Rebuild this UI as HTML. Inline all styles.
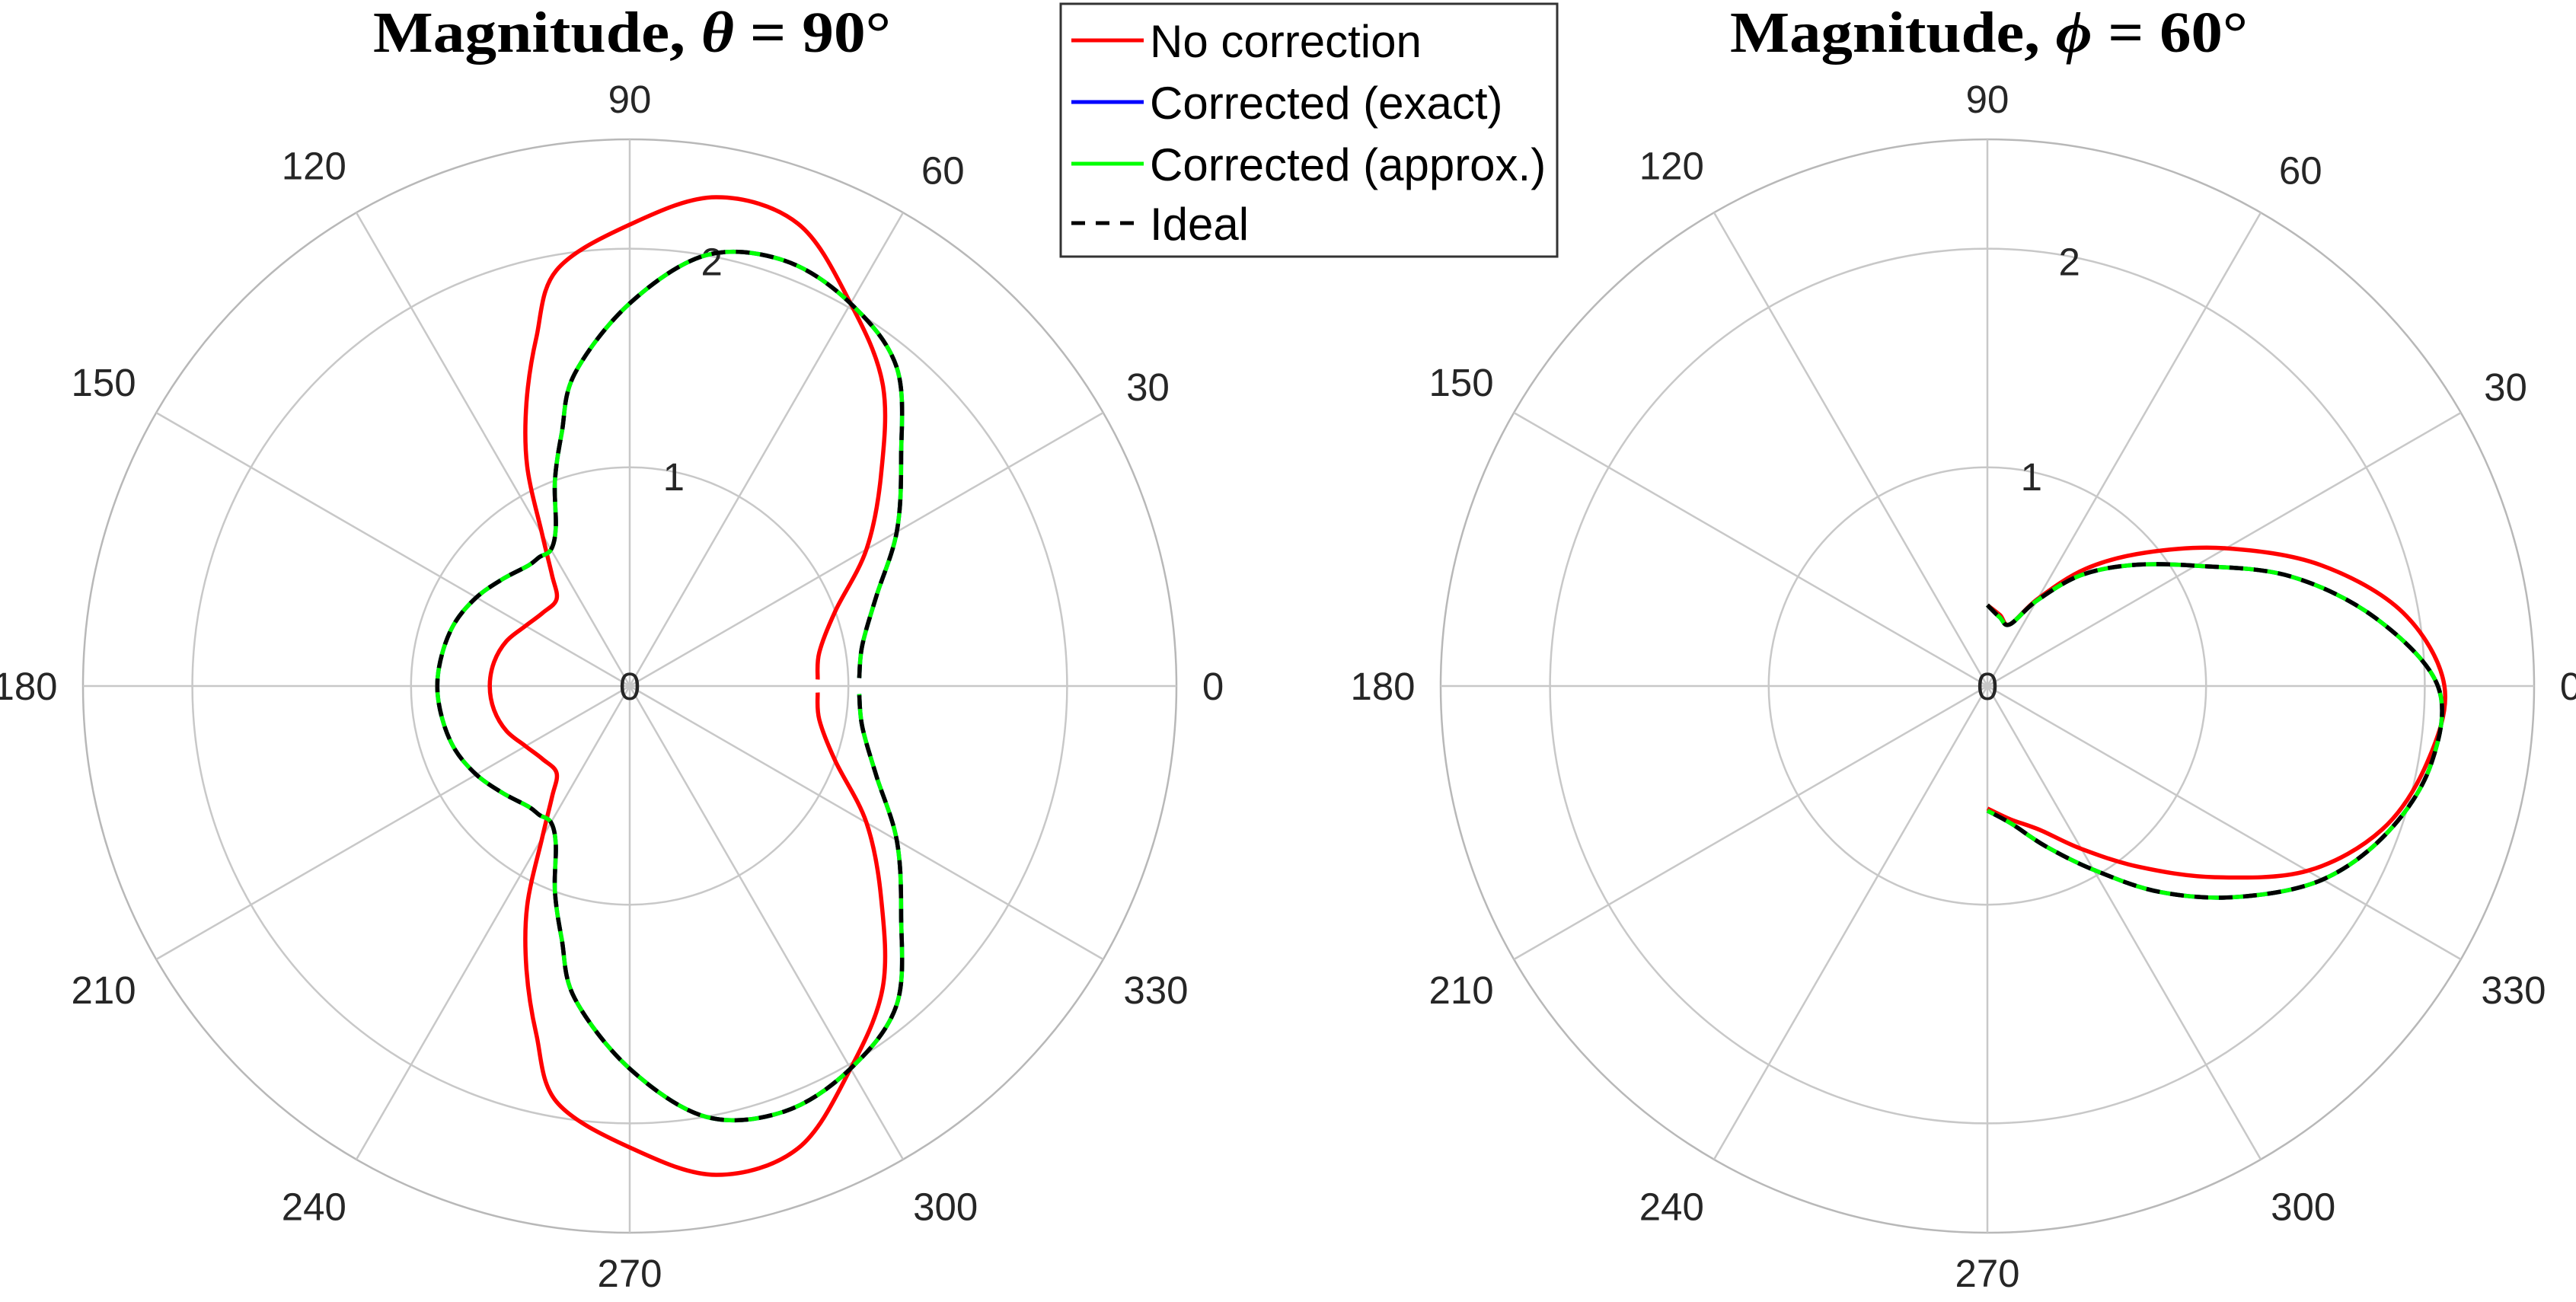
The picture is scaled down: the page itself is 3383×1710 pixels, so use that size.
<!DOCTYPE html>
<html><head><meta charset="utf-8"><style>
html,body{margin:0;padding:0;background:#fff;}
svg{display:block;}
</style></head><body>
<svg id="fig" width="3383" height="1710" viewBox="0 0 3383 1710" xmlns="http://www.w3.org/2000/svg">
<rect width="3383" height="1710" fill="#fff"/>
<text x="830" y="68" text-anchor="middle" font-family="Liberation Serif, serif" font-weight="bold" font-size="76" fill="#000" textLength="680" lengthAdjust="spacingAndGlyphs">Magnitude, <tspan font-style="italic">θ</tspan> = 90°</text>
<text x="2612" y="68" text-anchor="middle" font-family="Liberation Serif, serif" font-weight="bold" font-size="76" fill="#000" textLength="680" lengthAdjust="spacingAndGlyphs">Magnitude, <tspan font-style="italic">ϕ</tspan> = 60°</text>
<g id="left"></g>
<g id="right"></g>
<g>
<rect x="1393" y="5" width="652" height="332" fill="#fff" stroke="#333" stroke-width="3"/>
<line x1="1407" y1="53" x2="1502" y2="53" stroke="#ff0000" stroke-width="5"/>
<line x1="1407" y1="134" x2="1502" y2="134" stroke="#0000ff" stroke-width="5"/>
<line x1="1407" y1="215" x2="1502" y2="215" stroke="#00ff00" stroke-width="5"/>
<line x1="1407" y1="293" x2="1502" y2="293" stroke="#000" stroke-width="5" stroke-dasharray="18,14"/>
<g font-family="Liberation Sans, sans-serif" font-size="60" fill="#000">
<text x="1510" y="75">No correction</text>
<text x="1510" y="156">Corrected (exact)</text>
<text x="1510" y="237">Corrected (approx.)</text>
<text x="1510" y="315">Ideal</text>
</g>
</g>
</svg>
<script>
// Left plot (theta = 90°) data
const leftAngles = [2,10,20,30,40,50,60,70,80,90,100,105,110,115,120,125,130,140,150,160,170,180,190,200,210,220,230,235,240,245,250,255,260,270,280,290,300,310,320,330,340,350,358];
const leftCorrected = [1.05,1.08,1.2,1.41,1.62,1.9,2.02,2.07,2.0,1.75,1.45,1.2,1.0,0.8,0.72,0.72,0.72,0.76,0.81,0.85,0.87,0.88,0.87,0.85,0.81,0.76,0.72,0.72,0.72,0.8,1.0,1.2,1.45,1.75,2.0,2.07,2.02,1.9,1.62,1.41,1.2,1.08,1.05];
const leftNoCorr = [0.86,0.88,1.0,1.25,1.5,1.8,2.02,2.25,2.27,2.11,1.93,1.65,1.38,1.11,0.8,0.62,0.52,0.52,0.55,0.6,0.63,0.64,0.63,0.6,0.55,0.52,0.52,0.62,0.8,1.11,1.38,1.65,1.93,2.11,2.27,2.25,2.02,1.8,1.5,1.25,1.0,0.88,0.86];
// Right plot (phi = 60°) data
const rightAngles = [90,80,70,60,50,40,30,20,10,0,-10,-20,-30,-40,-50,-60,-70,-80,-90];
const rightCorrected = [0.37,0.32,0.30,0.45,0.66,0.86,1.1,1.47,1.8,2.06,2.06,1.95,1.77,1.5,1.23,0.97,0.78,0.64,0.57];
const rightNoCorr = [0.37,0.33,0.30,0.46,0.70,0.95,1.26,1.62,1.93,2.09,2.04,1.92,1.69,1.36,1.08,0.86,0.70,0.62,0.56];
const angleTicks = [0,30,60,90,120,150,180,210,240,270,300,330];
const rTicks = [0,1,2];
const rMax = 2.5;

const NS = 'http://www.w3.org/2000/svg';
const R = 718;
function mk(tag, attrs, parent){const e=document.createElementNS(NS,tag);for(const k in attrs)e.setAttribute(k,attrs[k]);parent.appendChild(e);return e;}

function drawPolar(g, cx, cy, angles, series){
  const rs = v => v / rMax * R;
  const px = (a, v) => cx + rs(v) * Math.cos(a*Math.PI/180);
  const py = (a, v) => cy - rs(v) * Math.sin(a*Math.PI/180);
  rTicks.concat([rMax]).forEach(t => {
    if (t <= 0) return;
    const c = mk('circle', {cx:cx, cy:cy, r:rs(t), fill:'none', stroke: t===rMax ? '#b8b8b8' : '#c8c8c8', 'stroke-width':2.5}, g);
    
    
  });
  angleTicks.forEach(a => {
    const l = mk('line', {x1:cx, y1:cy, x2:px(a,rMax), y2:py(a,rMax), stroke:'#c8c8c8', 'stroke-width':2.5}, g);
    
    
    const ca = Math.cos(a*Math.PI/180), sa = Math.sin(a*Math.PI/180);
    const hw = String(a).length * 14, hh = 19;
    const lr = 752 + Math.abs(ca)*hw + Math.abs(sa)*hh;
    const extra = (a % 90 === 60 || a % 90 === 30 && Math.abs(sa) > 0.8) ? 0 : 0;
    const hx = (Math.abs(sa) > 0.8 && Math.abs(ca) > 0.1) ? 20*Math.sign(ca) : 0;
    const t = mk('text', {x:cx + lr*ca + hx + extra, y:cy - lr*sa + 18, 'text-anchor':'middle', 'font-family':'Liberation Sans, sans-serif', 'font-size':51, fill:'#262626'}, g);
    t.textContent = a;
    
    
  });
  rTicks.forEach(t => {
    const ang = 80;
    const tx = mk('text', {x:px(ang, t) + 8, y:py(ang, t) + 26, 'text-anchor':'middle', 'font-family':'Liberation Sans, sans-serif', 'font-size':51, fill:'#262626'}, g);
    if (t===0){tx.setAttribute('x', cx); tx.setAttribute('y', cy+18);}
    tx.textContent = t;
    
    
  });
  series.forEach(s => {
    const pts = s.vals.map((v,i) => [px(angles[i], v), py(angles[i], v)]);
    let d = 'M' + pts[0][0].toFixed(1) + ',' + pts[0][1].toFixed(1);
    for (let i=0;i<pts.length-1;i++){
      const p0 = pts[Math.max(0,i-1)], p1 = pts[i], p2 = pts[i+1], p3 = pts[Math.min(pts.length-1,i+2)];
      const c1 = [p1[0]+(p2[0]-p0[0])/6, p1[1]+(p2[1]-p0[1])/6];
      const c2 = [p2[0]-(p3[0]-p1[0])/6, p2[1]-(p3[1]-p1[1])/6];
      d += ' C'+c1[0].toFixed(1)+','+c1[1].toFixed(1)+' '+c2[0].toFixed(1)+','+c2[1].toFixed(1)+' '+p2[0].toFixed(1)+','+p2[1].toFixed(1);
    }
    const p = mk('path', {d:d, fill:'none', stroke:s.color, 'stroke-width':5.5, 'stroke-linejoin':'round'}, g);
    if (s.dash) p.setAttribute('stroke-dasharray', s.dash);
    
    
  });
}

drawPolar(document.getElementById('left'), 827, 901, leftAngles, [
  {vals:leftNoCorr, color:'#ff0000', name:'left-no-correction-line'},
  {vals:leftCorrected, color:'#0000ff', name:'left-corrected-exact-line'},
  {vals:leftCorrected, color:'#00ff00', name:'left-corrected-approx-line'},
  {vals:leftCorrected, color:'#000', dash:'18,14', name:'left-ideal-line'}
]);
drawPolar(document.getElementById('right'), 2610, 901, rightAngles, [
  {vals:rightNoCorr, color:'#ff0000', name:'right-no-correction-line'},
  {vals:rightCorrected, color:'#0000ff', name:'right-corrected-exact-line'},
  {vals:rightCorrected, color:'#00ff00', name:'right-corrected-approx-line'},
  {vals:rightCorrected, color:'#000', dash:'18,14', name:'right-ideal-line'}
]);
</script>
</body></html>
